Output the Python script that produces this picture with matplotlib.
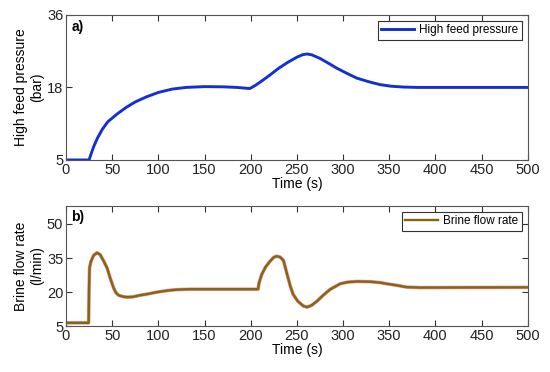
import numpy as np
import matplotlib
matplotlib.use("Agg")
import matplotlib.pyplot as plt

plt.rcParams['font.family'] = ['Liberation Sans', 'DejaVu Sans']

# Panel a) High feed pressure (bar)
t_a = [0, 25, 27, 30, 34, 39, 45, 55, 65, 75, 87, 100, 115, 130, 150, 170, 185, 199,
       205, 212, 221, 230, 240, 250, 256, 261, 266, 275, 285, 293, 305, 315, 328, 340,
       352, 365, 380, 500]
p_a = [5, 5, 6.0, 7.4, 8.9, 10.4, 11.8, 13.2, 14.4, 15.4, 16.3, 17.1, 17.7, 18.0, 18.2,
       18.15, 18.0, 17.8, 18.5, 19.6, 21.1, 22.7, 24.2, 25.5, 26.1, 26.3, 26.1, 25.2,
       23.9, 22.8, 21.4, 20.3, 19.4, 18.7, 18.3, 18.1, 18.0, 18.0]

# Panel b) Brine flow rate (l/min)
t_b = [0, 24.5, 25, 25.5, 27, 30, 33.5, 37, 41, 44.4, 48, 51.5, 54, 57, 62, 66, 72,
       80, 90, 98.5, 110, 120, 135, 208, 209, 212, 216, 221, 225, 228, 232, 235.5,
       239, 243, 246, 251, 257, 261, 266, 272, 279, 286, 297, 305, 315, 329, 340,
       347, 358, 369, 383, 500]
q_b = [6.5, 6.5, 22, 30.7, 33.5, 36.2, 37.3, 36.5, 33.5, 30.7, 26, 21.9, 19.8,
       18.6, 18.0, 17.8, 17.9, 18.6, 19.3, 20.0, 20.7, 21.1, 21.3, 21.3, 24, 27.8,
       31, 33.6, 35.3, 35.8, 35.4, 33.9, 28.5, 22.5, 19.0, 16.0, 13.9, 13.4, 14.2,
       16.1, 18.8, 21.2, 23.7, 24.4, 24.7, 24.6, 24.2, 23.7, 23.0, 22.2, 22.0, 22.1]

x_ticks = [0, 50, 100, 150, 200, 250, 300, 350, 400, 450, 500]
ya_ticks = [5, 18, 36]
yb_ticks = [5, 20, 35, 50]

# piecewise-linear scale so that 5, 18, 36 are equally spaced (as in the figure)
_src = np.array(ya_ticks, dtype=float)
_dst = np.array([0.0, 0.5, 1.0])
def fwd(y):
    y = np.asarray(y, dtype=float)
    return np.interp(y, _src, _dst)
def inv(y):
    y = np.asarray(y, dtype=float)
    return np.interp(y, _dst, _src)

fig = plt.figure(figsize=(5.5, 3.72), dpi=100)
ax1 = fig.add_axes([0.12, 0.57, 0.8395, 0.39])
ax2 = fig.add_axes([0.12, 0.123, 0.8395, 0.324])

spine_col = '#555555'
fs = 10
tfs = 10.5

ax1.plot(t_a, p_a, color='#1530d0', lw=2.1, label='High feed pressure')
ax1.set_yscale('function', functions=(fwd, inv))
ax1.set_xlim(0, 500)
ax1.set_ylim(5, 36)
ax1.set_yticks(ya_ticks)
ax1.set_yticklabels([str(v) for v in ya_ticks])
ax1.yaxis.set_minor_locator(matplotlib.ticker.NullLocator())
ax1.set_xticks(x_ticks)
ax1.set_xlabel('Time (s)', fontsize=fs, labelpad=0)
ax1.set_ylabel('High feed pressure\n(bar)', fontsize=fs, labelpad=2)
ax1.text(0.012, 0.965, 'a)', transform=ax1.transAxes, fontsize=fs, fontweight='bold',
         va='top', ha='left')
leg1 = ax1.legend(loc='upper right', fontsize=8.5, fancybox=False, framealpha=1,
                  edgecolor='#333333', borderpad=0.3, handlelength=2.8,
                  handletextpad=0.4, borderaxespad=0.5)
leg1.get_frame().set_linewidth(0.8)

ax2.plot(t_b, q_b, color='#c0504d', lw=2.6, alpha=0.55)
ax2.plot(t_b, q_b, color='#8a6214', lw=1.7, label='Brine flow rate')
ax2.set_xlim(0, 500)
ax2.set_ylim(5, 58)
ax2.set_yticks(yb_ticks)
ax2.set_xticks(x_ticks)
ax2.set_xlabel('Time (s)', fontsize=fs, labelpad=0)
ax2.set_ylabel('Brine flow rate\n(l/min)', fontsize=fs, labelpad=2)
ax2.text(0.012, 0.965, 'b)', transform=ax2.transAxes, fontsize=fs, fontweight='bold',
         va='top', ha='left')
leg2 = ax2.legend(loc='upper right', fontsize=8.5, fancybox=False, framealpha=1,
                  edgecolor='#333333', borderpad=0.3, handlelength=2.8,
                  handletextpad=0.4, borderaxespad=0.5)
leg2.get_frame().set_linewidth(0.8)

for ax in (ax1, ax2):
    ax.tick_params(direction='in', top=True, right=True, length=4, width=0.8,
                   labelsize=tfs, pad=2, colors='#333333', labelcolor='#222222')
    for s in ax.spines.values():
        s.set_color(spine_col)
        s.set_linewidth(0.8)

fig.savefig('out.png', dpi=100)
